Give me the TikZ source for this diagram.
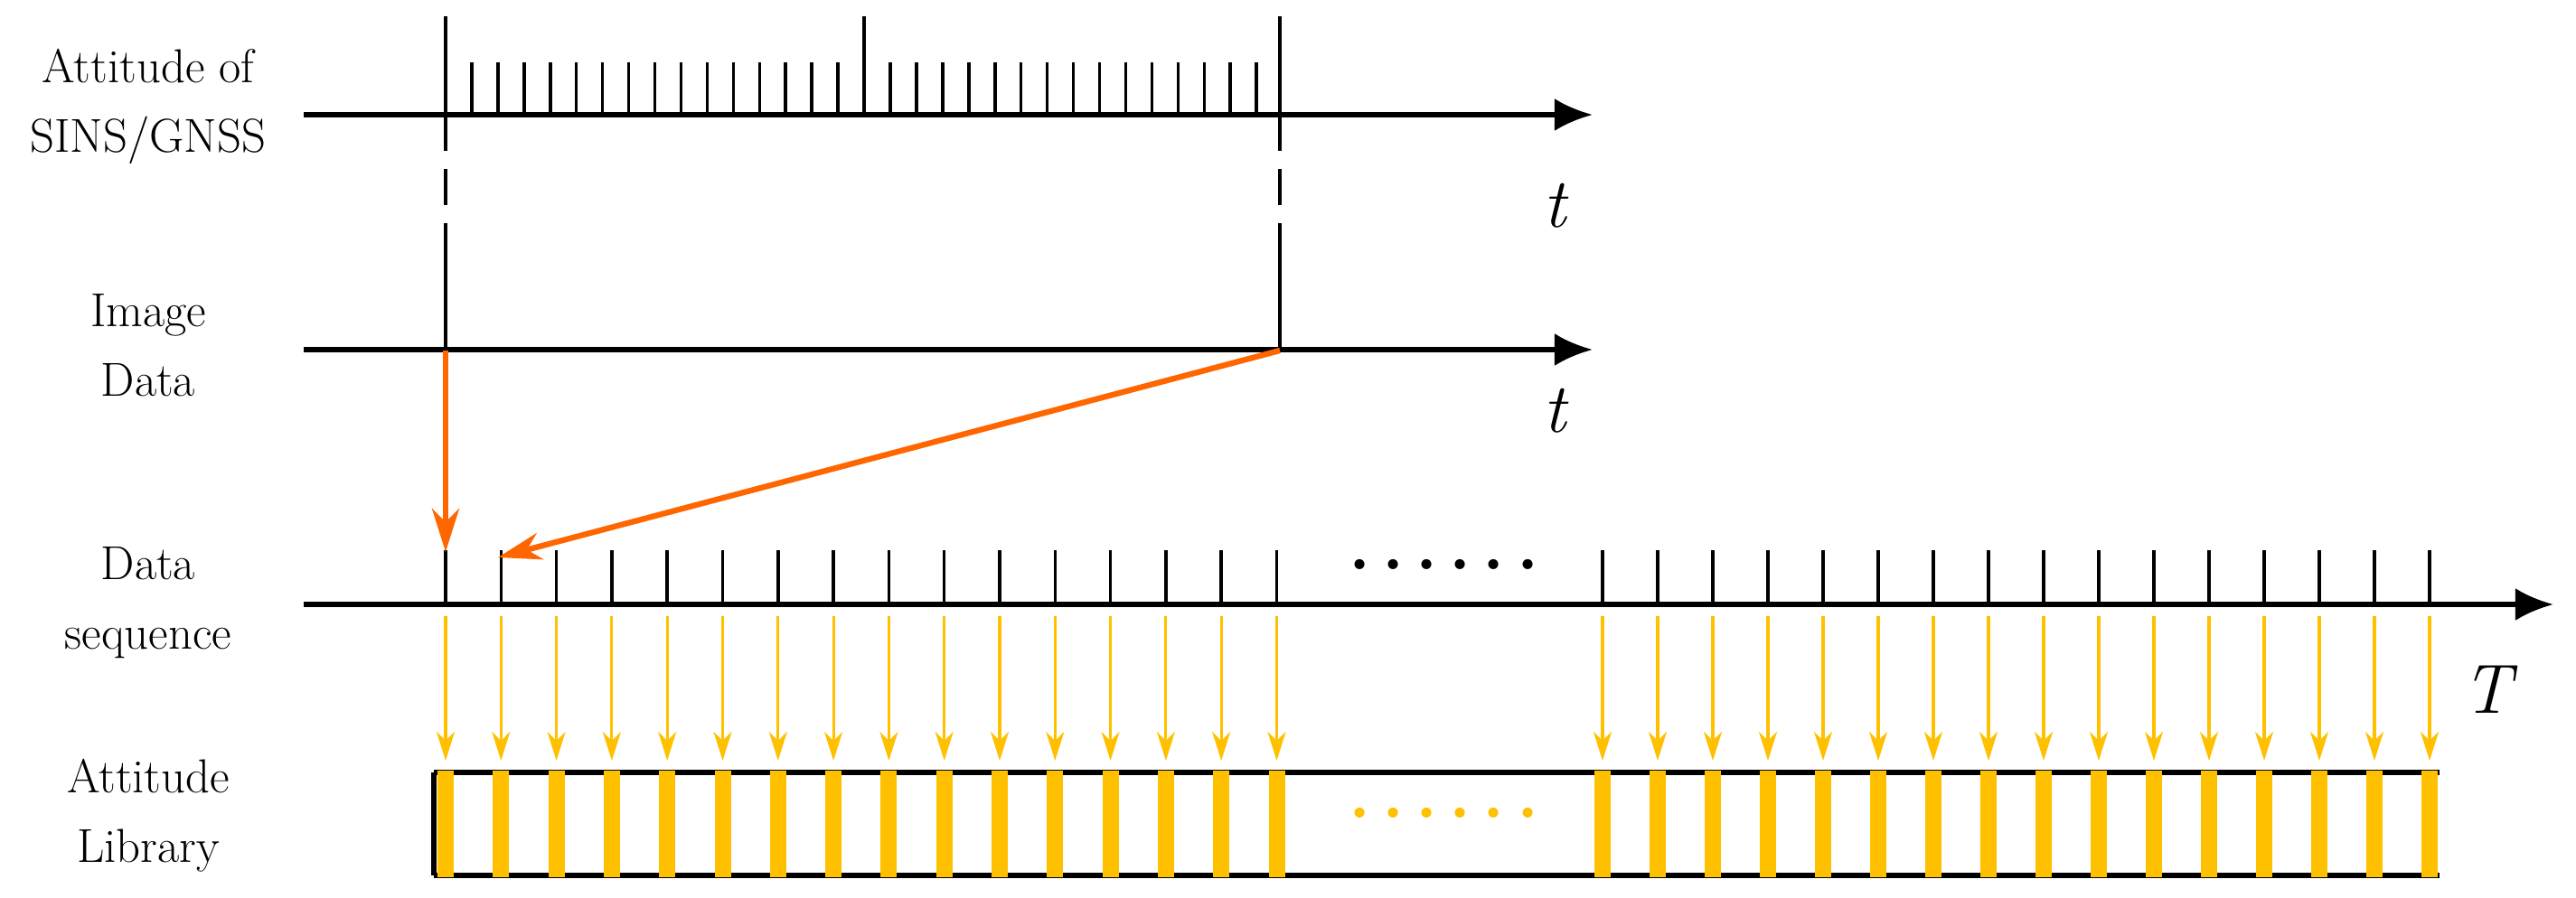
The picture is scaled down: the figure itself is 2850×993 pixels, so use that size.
\documentclass[tikz,border=0pt]{standalone}
\usepackage{tikz}
\usetikzlibrary{arrows.meta}
\definecolor{org}{HTML}{FF6600}
\definecolor{yel}{HTML}{FFC000}
\begin{document}
\begin{tikzpicture}[x=0.01cm,y=-0.01cm,
  axis/.style={line width=1.5pt,-{Latex[length=0.42cm,width=0.36cm]}},
  tick/.style={line width=1pt},
  lab/.style={font=\fontsize{15}{22}\selectfont,align=center},
  var/.style={font=\fontsize{22}{22}\selectfont\itshape},
  yarr/.style={yel,line width=0.9pt,-{Stealth[length=0.32cm,width=0.2cm,inset=0.1cm]}},
  oarr/.style={org,line width=1.8pt,-{Stealth[length=0.48cm,width=0.3cm,inset=0.15cm]}}]
\useasboundingbox (0,0) rectangle (2850,993);
% labels
\node[lab] (l1) at (164,118) {Attitude of\\SINS/GNSS};
\node[lab] (l2) at (164,382) {Image\\Data};
\node[lab] (l3) at (164,667) {Data\\sequence};
\node[lab] (l4) at (164,903) {Attitude\\Library};
% axes
\coordinate (a1s) at (336,127); \coordinate (a1e) at (1762,127);
\coordinate (a2s) at (336,387); \coordinate (a2e) at (1762,387);
\coordinate (a3s) at (336,669); \coordinate (a3e) at (2825,669);
\draw[axis] (a1s) -- (a1e);
\draw[axis] (a2s) -- (a2e);
\draw[axis] (a3s) -- (a3e);
\node[var] (t1) at (1720,228) {t};
\node[var] (t2) at (1720,455) {t};
\node[var] (T) at (2752,763) {T};
% top ticks
\foreach \i in {1,...,15,17,18,...,31}
  \draw[tick] (493+\i*28.94,127) -- (493+\i*28.94,69);
\foreach \x in {493,956,1416} \draw[tick] (\x,127) -- (\x,18);
\foreach \x in {493,1416} \draw[tick,dash pattern=on 0.4cm off 0.2cm] (\x,127) -- (\x,282);
\foreach \x in {493,1416} \draw[tick] (\x,282) -- (\x,387);
% data sequence ticks
\foreach \i in {0,...,15} {
  \draw[tick] (493+\i*61.3,669) -- (493+\i*61.3,609);
  \draw[yarr] (493+\i*61.3,682) -- (493+\i*61.3,842);
  \draw[tick] (1773+\i*61,669) -- (1773+\i*61,609);
  \draw[yarr] (1773+\i*61,682) -- (1773+\i*61,842);
}
\node[font=\fontsize{22}{22}\selectfont] (d1) at (1591,625) {\textbf{\,.\,.\,.\,.\,.\,.}};
% library box
\draw[line width=1.5pt] (480,855) -- (2699,855);
\draw[line width=1.5pt] (480,969) -- (2699,969);
\draw[line width=1.5pt] (480,855) -- (480,969);
\foreach \i in {0,...,15} {
  \fill[yel] (493+\i*61.3-9,853) rectangle (493+\i*61.3+9,971);
  \fill[yel] (1773+\i*61-9,853) rectangle (1773+\i*61+9,971);
}
\node[font=\fontsize{22}{22}\selectfont,text=yel] (d2) at (1591,900) {\textbf{\,.\,.\,.\,.\,.\,.}};
% orange arrows
\coordinate (o1) at (493,388); \coordinate (o2) at (1416,388);
\draw[oarr] (o1) -- (493,611);
\draw[oarr] (o2) -- (551,617);
\end{tikzpicture}
\end{document}
